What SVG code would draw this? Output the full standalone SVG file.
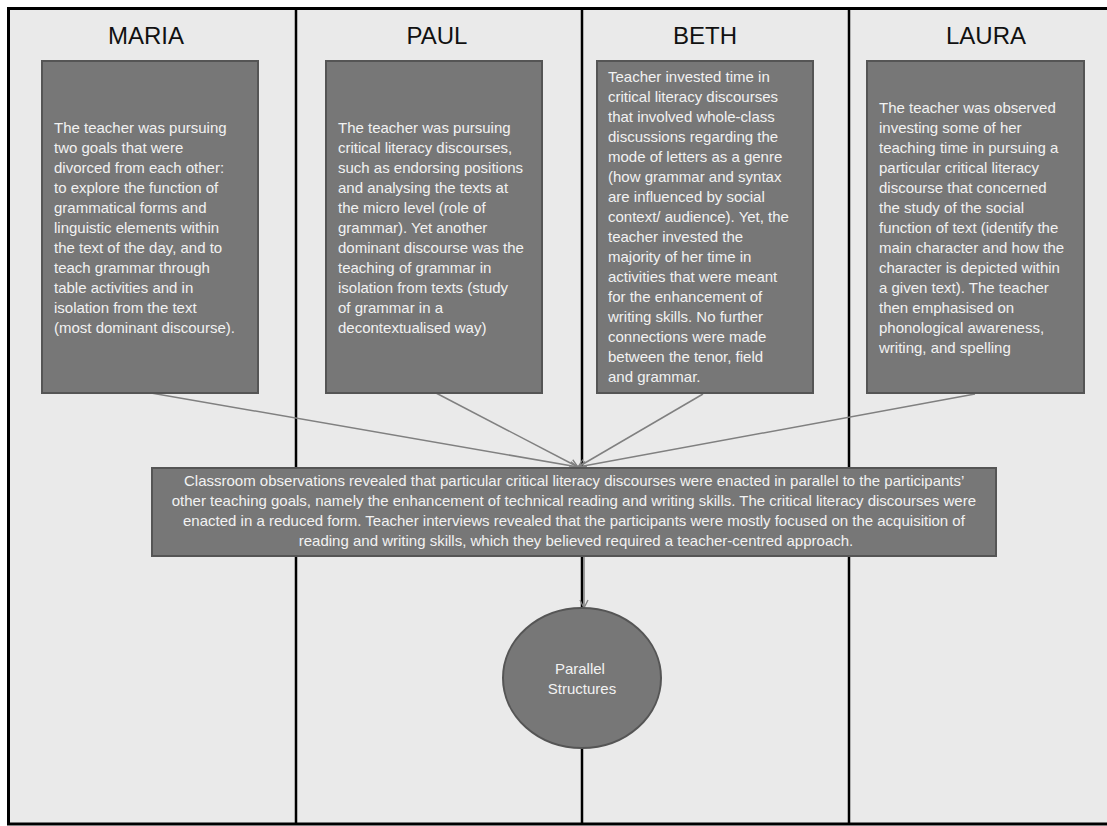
<svg xmlns="http://www.w3.org/2000/svg" width="1107" height="826" viewBox="0 0 1107 826">
<style>
.bg{fill:#EAEAEA}
.frame{stroke:#000;stroke-width:3;fill:none}
.div{stroke:#000;stroke-width:2.5}
.box{fill:#777777;stroke:#555555;stroke-width:2}
.head{font-family:"Liberation Sans",Arial,sans-serif;font-size:24px;fill:#111;text-anchor:middle}
.t{font-family:"Liberation Sans",Arial,sans-serif;font-size:15px;fill:#F2F2F2}
.tc{text-anchor:middle}
.conn{stroke:#808080;stroke-width:1.5;fill:none;marker-end:url(#arr)}
</style>
<defs>
<marker id="arr" markerWidth="10" markerHeight="10" refX="9" refY="5" orient="auto" markerUnits="userSpaceOnUse">
<path d="M1,1 L9,5 L1,9" fill="none" stroke="#808080" stroke-width="1.3"/>
</marker>
</defs>
<rect x="0" y="0" width="1107" height="826" fill="#FFFFFF"/>
<rect class="bg" x="8" y="8" width="1099" height="816"/>
<g id="lanes">
<path class="frame" d="M1107,8.5 L8.5,8.5 L8.5,824 L1107,824"/>
<line class="div" x1="296" y1="8" x2="296" y2="824"/>
<line class="div" x1="582" y1="8" x2="582" y2="824"/>
<line class="div" x1="849" y1="8" x2="849" y2="824"/>
<text class="head" x="146" y="44">MARIA</text>
<text class="head" x="437" y="44">PAUL</text>
<text class="head" x="705" y="44">BETH</text>
<text class="head" x="986" y="44">LAURA</text>
</g>
<g id="connectors">
<line class="conn" x1="151" y1="393" x2="578" y2="467"/>
<line class="conn" x1="436" y1="393" x2="578" y2="467"/>
<line class="conn" x1="703" y1="394" x2="578" y2="467"/>
<line class="conn" x1="975" y1="394" x2="578" y2="467"/>
<line class="conn" x1="584" y1="556" x2="584" y2="608"/>
</g>
<g id="maria">
<rect class="box" x="42" y="61" width="216" height="332"/>
<text class="t">
<tspan x="54" y="133">The teacher was pursuing</tspan>
<tspan x="54" y="153">two goals that were</tspan>
<tspan x="54" y="173">divorced from each other:</tspan>
<tspan x="54" y="193">to explore the function of</tspan>
<tspan x="54" y="213">grammatical forms and</tspan>
<tspan x="54" y="233">linguistic elements within</tspan>
<tspan x="54" y="253">the text of the day, and to</tspan>
<tspan x="54" y="273">teach grammar through</tspan>
<tspan x="54" y="293">table activities and in</tspan>
<tspan x="54" y="313">isolation from the text</tspan>
<tspan x="54" y="333">(most dominant discourse).</tspan>
</text>
</g>
<g id="paul">
<rect class="box" x="326" y="61" width="216" height="332"/>
<text class="t">
<tspan x="338" y="133">The teacher was pursuing</tspan>
<tspan x="338" y="153">critical literacy discourses,</tspan>
<tspan x="338" y="173">such as endorsing positions</tspan>
<tspan x="338" y="193">and analysing the texts at</tspan>
<tspan x="338" y="213">the micro level (role of</tspan>
<tspan x="338" y="233">grammar). Yet another</tspan>
<tspan x="338" y="253">dominant discourse was the</tspan>
<tspan x="338" y="273">teaching of grammar in</tspan>
<tspan x="338" y="293">isolation from texts (study</tspan>
<tspan x="338" y="313">of grammar in a</tspan>
<tspan x="338" y="333">decontextualised way)</tspan>
</text>
</g>
<g id="beth">
<rect class="box" x="597" y="61" width="216" height="332"/>
<text class="t">
<tspan x="608" y="82">Teacher invested time in</tspan>
<tspan x="608" y="102">critical literacy discourses</tspan>
<tspan x="608" y="122">that involved whole-class</tspan>
<tspan x="608" y="142">discussions regarding the</tspan>
<tspan x="608" y="162">mode of letters as a genre</tspan>
<tspan x="608" y="182">(how grammar and syntax</tspan>
<tspan x="608" y="202">are influenced by social</tspan>
<tspan x="608" y="222">context/ audience). Yet, the</tspan>
<tspan x="608" y="242">teacher invested the</tspan>
<tspan x="608" y="262">majority of her time in</tspan>
<tspan x="608" y="282">activities that were meant</tspan>
<tspan x="608" y="302">for the enhancement of</tspan>
<tspan x="608" y="322">writing skills. No further</tspan>
<tspan x="608" y="342">connections were made</tspan>
<tspan x="608" y="362">between the tenor, field</tspan>
<tspan x="608" y="382">and grammar.</tspan>
</text>
</g>
<g id="laura">
<rect class="box" x="867" y="61" width="217" height="332"/>
<text class="t">
<tspan x="879" y="113">The teacher was observed</tspan>
<tspan x="879" y="133">investing some of her</tspan>
<tspan x="879" y="153">teaching time in pursuing a</tspan>
<tspan x="879" y="173">particular critical literacy</tspan>
<tspan x="879" y="193">discourse that concerned</tspan>
<tspan x="879" y="213">the study of the social</tspan>
<tspan x="879" y="233">function of text (identify the</tspan>
<tspan x="879" y="253">main character and how the</tspan>
<tspan x="879" y="273">character is depicted within</tspan>
<tspan x="879" y="293">a given text). The teacher</tspan>
<tspan x="879" y="313">then emphasised on</tspan>
<tspan x="879" y="333">phonological awareness,</tspan>
<tspan x="879" y="353">writing, and spelling</tspan>
</text>
</g>
<g id="summary">
<rect class="box" x="152" y="468" width="844" height="88"/>
<text class="t tc">
<tspan x="576" y="486">Classroom observations revealed that particular critical literacy discourses were enacted in parallel to the participants’</tspan>
<tspan x="576" y="506">other teaching goals, namely the enhancement of technical reading and writing skills. The critical literacy discourses were</tspan>
<tspan x="576" y="526">enacted in a reduced form. Teacher interviews revealed that the participants were mostly focused on the acquisition of</tspan>
<tspan x="576" y="546">reading and writing skills, which they believed required a teacher-centred approach.</tspan>
</text>
</g>
<g id="parallel">
<ellipse class="box" cx="582" cy="678" rx="79" ry="70"/>
<text class="t tc">
<tspan x="582" y="674">Parallel</tspan>
<tspan x="582" y="694">Structures</tspan>
</text>
</g>
</svg>
